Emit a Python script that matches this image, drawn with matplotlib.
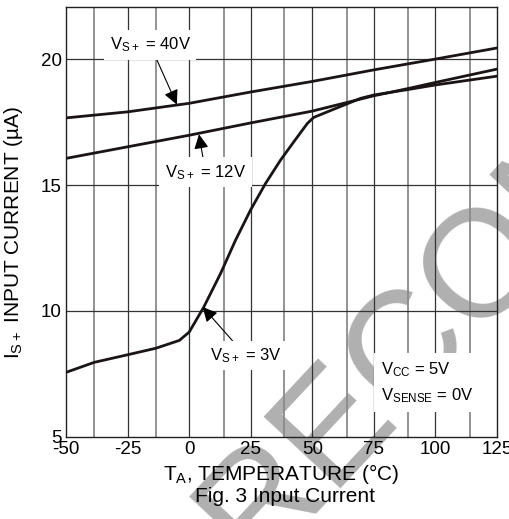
import numpy as np
import matplotlib.pyplot as plt

plt.rcParams['font.family'] = ['Liberation Sans', 'DejaVu Sans']
plt.rcParams['mathtext.default'] = 'regular'
plt.rcParams['axes.unicode_minus'] = False

# data
x_ticks = [-50, -25, 0, 25, 50, 75, 100, 125]
y_ticks = [5, 10, 15, 20]
grid_major = [-25, 0, 25, 50, 75, 100]
grid_minor = [-38.5, -13.5, 14, 38.5, 64, 89, 114]
grid_h = [10, 15, 20]

t_40v = [-50, -25, 0, 25, 50, 75, 100, 125]
i_40v = [17.67, 17.91, 18.25, 18.70, 19.12, 19.58, 20.01, 20.45]

t_12v = [-50, -25, 0, 25, 50, 75, 89, 100, 125]
i_12v = [16.06, 16.52, 16.98, 17.47, 17.94, 18.55, 18.84, 19.08, 19.61]

t_3v = [-50, -38.5, -25, -13.5, -4, 0, 5.9, 12.7, 18.8, 24.9, 31, 37.1,
        42.5, 48, 50.6, 56.1, 62.9, 69.7, 75, 89, 100, 125]
i_3v = [7.55, 7.95, 8.25, 8.51, 8.82, 9.15, 10.14, 11.47, 12.8, 14.0, 15.06,
        15.99, 16.72, 17.45, 17.69, 17.91, 18.18, 18.45, 18.58, 18.8, 18.98, 19.33]

fig = plt.figure(figsize=(5.1, 5.19), dpi=100)
ax = fig.add_axes([66/510, 1-436.5/519, 431/510, 430/519])
ax.set_facecolor('none')

# watermark behind everything
fig.text(253.7/510, 1-568.7/519, 'RECOMMENDED', rotation=47, rotation_mode='anchor',
         ha='left', va='baseline', fontsize=110, color='#b0b0b0', zorder=-1)

for x in grid_minor:
    ax.axvline(x, color='#8a8a8a', lw=1.3, zorder=1)
for x in grid_major:
    ax.axvline(x, color='#333333', lw=0.9, zorder=1)
for y in grid_h:
    ax.axhline(y, color='#333333', lw=0.9, zorder=1)

line_col = '#1c1414'
ax.plot(t_40v, i_40v, color=line_col, lw=2.0, zorder=3)
ax.plot(t_12v, i_12v, color=line_col, lw=2.0, zorder=3)
ax.plot(t_3v, i_3v, color=line_col, lw=2.0, zorder=3)

ax.set_xlim(-50, 125)
ax.set_ylim(5, 22.1)
ax.set_xticks(x_ticks)
ax.set_yticks(y_ticks)
ax.tick_params(length=0, labelsize=13.5)
ax.tick_params(axis='x', pad=3)
ax.tick_params(axis='y', pad=3)
for s in ax.spines.values():
    s.set_color('#222222')
    s.set_linewidth(1.0)

ax.set_ylabel('I$_{S+}$ INPUT CURRENT (µA)', fontsize=15)
ax.yaxis.set_label_coords(-0.095, 0.475)
ax.set_xlabel('T$_{A}$, TEMPERATURE (°C)', fontsize=15, labelpad=3)
fig.text(285/510, 1-497/519, 'Fig. 3 Input Current', fontsize=15,
         ha='center', va='center')

arrow = dict(arrowstyle='-|>', color='black', lw=0.8, mutation_scale=22,
             shrinkA=0, shrinkB=0)
box = dict(fc='white', ec='none', pad=4)
ax.annotate('V$_{S+}$ = 40V', xy=(-5, 18.2), xytext=(-15.8, 20.57), fontsize=12,
            ha='center', va='center', arrowprops=arrow, bbox=box, zorder=4)
ax.annotate('V$_{S+}$ = 12V', xy=(4, 17.02), xytext=(6.6, 15.51), fontsize=12,
            ha='center', va='center', arrowprops=arrow, bbox=box, zorder=4)
ax.annotate('V$_{S+}$ = 3V', xy=(5.5, 10.15), xytext=(22.9, 8.22), fontsize=12,
            ha='center', va='center', arrowprops=arrow, bbox=box, zorder=4)
ax.text(78, 7.15, 'V$_{CC}$ = 5V\nV$_{SENSE}$ = 0V', fontsize=12, ha='left',
        va='center', linespacing=1.5, zorder=4,
        bbox=dict(fc='white', ec='none', pad=5))

fig.savefig('out.png', dpi=100)
